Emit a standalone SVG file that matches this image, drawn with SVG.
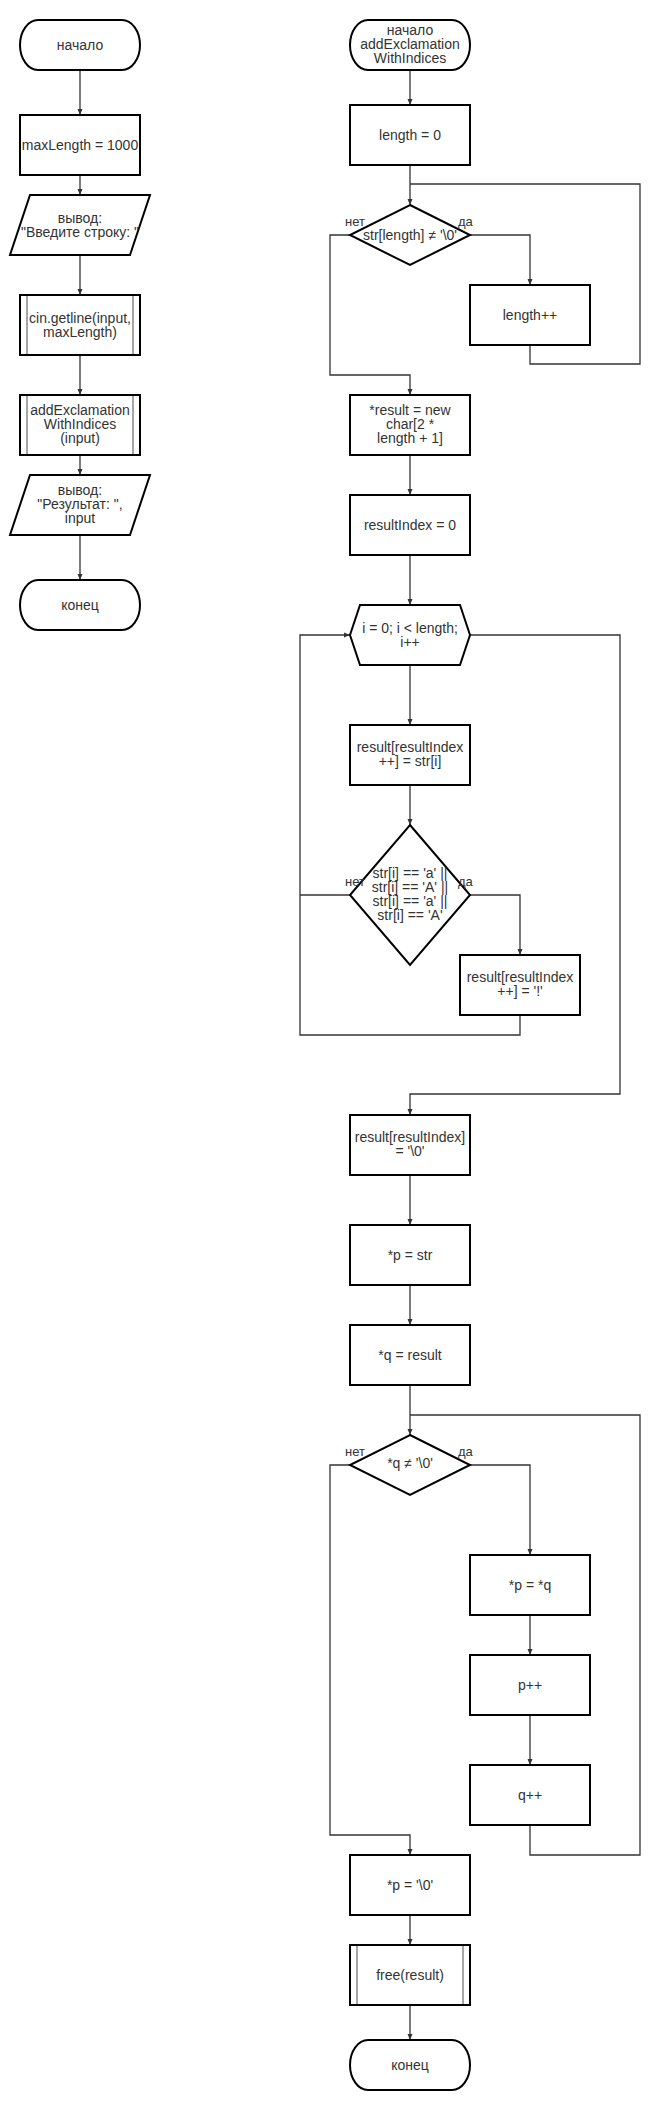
<svg xmlns="http://www.w3.org/2000/svg" width="660" height="2110" viewBox="0 0 660 2110">
<defs>
<style>
.n{fill:#fff;stroke:#000;stroke-width:2}
.in{stroke:#888;stroke-width:1.5;fill:none}
.c{fill:none;stroke:#333;stroke-width:1.3}
.t{font-family:"Liberation Sans",Arial,sans-serif;font-size:14px;fill:#333;text-anchor:middle}
.s{font-family:"Liberation Sans",Arial,sans-serif;font-size:14px;fill:#333;text-anchor:middle}
.l{font-family:"Liberation Sans",Arial,sans-serif;font-size:13px;fill:#333}
</style>
<marker id="a" markerUnits="userSpaceOnUse" markerWidth="6" markerHeight="6" refX="6" refY="3" orient="auto">
<path d="M0,0.5 L6,3 L0,5.5 z" fill="#333"/>
</marker>
</defs>

<g id="connectors">
<line class="c" x1="80" y1="70" x2="80" y2="115" marker-end="url(#a)"/>
<line class="c" x1="80" y1="175" x2="80" y2="195" marker-end="url(#a)"/>
<line class="c" x1="80" y1="255" x2="80" y2="295" marker-end="url(#a)"/>
<line class="c" x1="80" y1="355" x2="80" y2="395" marker-end="url(#a)"/>
<line class="c" x1="80" y1="455" x2="80" y2="475" marker-end="url(#a)"/>
<line class="c" x1="80" y1="535" x2="80" y2="580" marker-end="url(#a)"/>

<line class="c" x1="410" y1="70" x2="410" y2="105" marker-end="url(#a)"/>
<line class="c" x1="410" y1="165" x2="410" y2="205" marker-end="url(#a)"/>
<polyline class="c" points="530,345 530,364 640,364 640,184 410,184"/>
<polyline class="c" points="470,235 530,235 530,285" marker-end="url(#a)"/>
<polyline class="c" points="350,235 330,235 330,375 410,375 410,395" marker-end="url(#a)"/>
<line class="c" x1="410" y1="455" x2="410" y2="495" marker-end="url(#a)"/>
<line class="c" x1="410" y1="555" x2="410" y2="605" marker-end="url(#a)"/>
<line class="c" x1="410" y1="665" x2="410" y2="725" marker-end="url(#a)"/>
<line class="c" x1="410" y1="785" x2="410" y2="825" marker-end="url(#a)"/>
<polyline class="c" points="470,895 520,895 520,955" marker-end="url(#a)"/>
<polyline class="c" points="520,1015 520,1035 300,1035 300,635 350,635" marker-end="url(#a)"/>
<polyline class="c" points="350,895 300,895"/>
<polyline class="c" points="470,635 620,635 620,1094 410,1094 410,1115" marker-end="url(#a)"/>
<line class="c" x1="410" y1="1175" x2="410" y2="1225" marker-end="url(#a)"/>
<line class="c" x1="410" y1="1285" x2="410" y2="1325" marker-end="url(#a)"/>
<line class="c" x1="410" y1="1385" x2="410" y2="1435" marker-end="url(#a)"/>
<polyline class="c" points="530,1825 530,1855 640,1855 640,1415 410,1415"/>
<polyline class="c" points="470,1465 530,1465 530,1555" marker-end="url(#a)"/>
<line class="c" x1="530" y1="1615" x2="530" y2="1655" marker-end="url(#a)"/>
<line class="c" x1="530" y1="1715" x2="530" y2="1765" marker-end="url(#a)"/>
<polyline class="c" points="350,1465 330,1465 330,1835 410,1835 410,1855" marker-end="url(#a)"/>
<line class="c" x1="410" y1="1915" x2="410" y2="1945" marker-end="url(#a)"/>
<line class="c" x1="410" y1="2005" x2="410" y2="2040" marker-end="url(#a)"/>
</g>

<g id="start1"><rect class="n" x="20" y="20" width="120" height="50" rx="18" ry="25"/><text class="t" x="80" y="50">начало</text></g>
<g id="maxlen"><rect class="n" x="20" y="115" width="120" height="60"/><text class="t" x="80" y="150">maxLength = 1000</text></g>
<g id="out1"><polygon class="n" points="30,195 150,195 130,255 10,255"/><text class="t" x="80" y="223">вывод:</text><text class="t" x="80" y="237">"Введите строку: "</text></g>
<g id="getline"><rect class="n" x="20" y="295" width="120" height="60"/><line class="in" x1="27" y1="296" x2="27" y2="354"/><line class="in" x1="133" y1="296" x2="133" y2="354"/><text class="t" x="80" y="323">cin.getline(input,</text><text class="t" x="80" y="337">maxLength)</text></g>
<g id="call"><rect class="n" x="20" y="395" width="120" height="60"/><line class="in" x1="27" y1="396" x2="27" y2="454"/><line class="in" x1="133" y1="396" x2="133" y2="454"/><text class="t" x="80" y="415">addExclamation</text><text class="t" x="80" y="429">WithIndices</text><text class="t" x="80" y="443">(input)</text></g>
<g id="out2"><polygon class="n" points="30,475 150,475 130,535 10,535"/><text class="t" x="80" y="495">вывод:</text><text class="t" x="80" y="509">"Результат: ",</text><text class="t" x="80" y="523">input</text></g>
<g id="end1"><rect class="n" x="20" y="580" width="120" height="50" rx="18" ry="25"/><text class="t" x="80" y="610">конец</text></g>

<g id="start2"><rect class="n" x="350" y="20" width="120" height="50" rx="18" ry="25"/><text class="t" x="410" y="35">начало</text><text class="t" x="410" y="49">addExclamation</text><text class="t" x="410" y="63">WithIndices</text></g>
<g id="len0"><rect class="n" x="350" y="105" width="120" height="60"/><text class="t" x="410" y="140">length = 0</text></g>
<g id="cond1"><polygon class="n" points="410,205 470,235 410,265 350,235"/><text class="s" x="410" y="240">str[length] ≠ '\0'</text></g>
<g id="lab1"><text class="l" x="345" y="226">нет</text><text class="l" x="458" y="226">да</text></g>
<g id="leninc"><rect class="n" x="470" y="285" width="120" height="60"/><text class="t" x="530" y="320">length++</text></g>
<g id="alloc"><rect class="n" x="350" y="395" width="120" height="60"/><text class="t" x="410" y="415">*result = new</text><text class="t" x="410" y="429">char[2 *</text><text class="t" x="410" y="443">length + 1]</text></g>
<g id="ri0"><rect class="n" x="350" y="495" width="120" height="60"/><text class="t" x="410" y="530">resultIndex = 0</text></g>
<g id="loop"><polygon class="n" points="350,635 360,605 460,605 470,635 460,665 360,665"/><text class="t" x="410" y="633">i = 0; i &lt; length;</text><text class="t" x="410" y="647">i++</text></g>
<g id="copy"><rect class="n" x="350" y="725" width="120" height="60"/><text class="t" x="410" y="752">result[resultIndex</text><text class="t" x="410" y="766">++] = str[i]</text></g>
<g id="cond2"><polygon class="n" points="410,825 470,895 410,965 350,895"/><text class="s" x="410" y="878">str[i] == 'a' ||</text><text class="s" x="410" y="892">str[i] == 'A' ||</text><text class="s" x="410" y="906">str[i] == 'а' ||</text><text class="s" x="410" y="920">str[i] == 'А'</text></g>
<g id="lab2"><text class="l" x="345" y="886">нет</text><text class="l" x="458" y="886">да</text></g>
<g id="excl"><rect class="n" x="460" y="955" width="120" height="60"/><text class="t" x="520" y="982">result[resultIndex</text><text class="t" x="520" y="996">++] = '!'</text></g>
<g id="term"><rect class="n" x="350" y="1115" width="120" height="60"/><text class="t" x="410" y="1142">result[resultIndex]</text><text class="t" x="410" y="1156">= '\0'</text></g>
<g id="pstr"><rect class="n" x="350" y="1225" width="120" height="60"/><text class="t" x="410" y="1260">*p = str</text></g>
<g id="qres"><rect class="n" x="350" y="1325" width="120" height="60"/><text class="t" x="410" y="1360">*q = result</text></g>
<g id="cond3"><polygon class="n" points="410,1435 470,1465 410,1495 350,1465"/><text class="s" x="410" y="1468">*q ≠ '\0'</text></g>
<g id="lab3"><text class="l" x="345" y="1456">нет</text><text class="l" x="458" y="1456">да</text></g>
<g id="pq"><rect class="n" x="470" y="1555" width="120" height="60"/><text class="t" x="530" y="1590">*p = *q</text></g>
<g id="pinc"><rect class="n" x="470" y="1655" width="120" height="60"/><text class="t" x="530" y="1690">p++</text></g>
<g id="qinc"><rect class="n" x="470" y="1765" width="120" height="60"/><text class="t" x="530" y="1800">q++</text></g>
<g id="pend"><rect class="n" x="350" y="1855" width="120" height="60"/><text class="t" x="410" y="1890">*p = '\0'</text></g>
<g id="free"><rect class="n" x="350" y="1945" width="120" height="60"/><line class="in" x1="357" y1="1946" x2="357" y2="2004"/><line class="in" x1="463" y1="1946" x2="463" y2="2004"/><text class="t" x="410" y="1980">free(result)</text></g>
<g id="end2"><rect class="n" x="350" y="2040" width="120" height="50" rx="18" ry="25"/><text class="t" x="410" y="2070">конец</text></g>
</svg>
